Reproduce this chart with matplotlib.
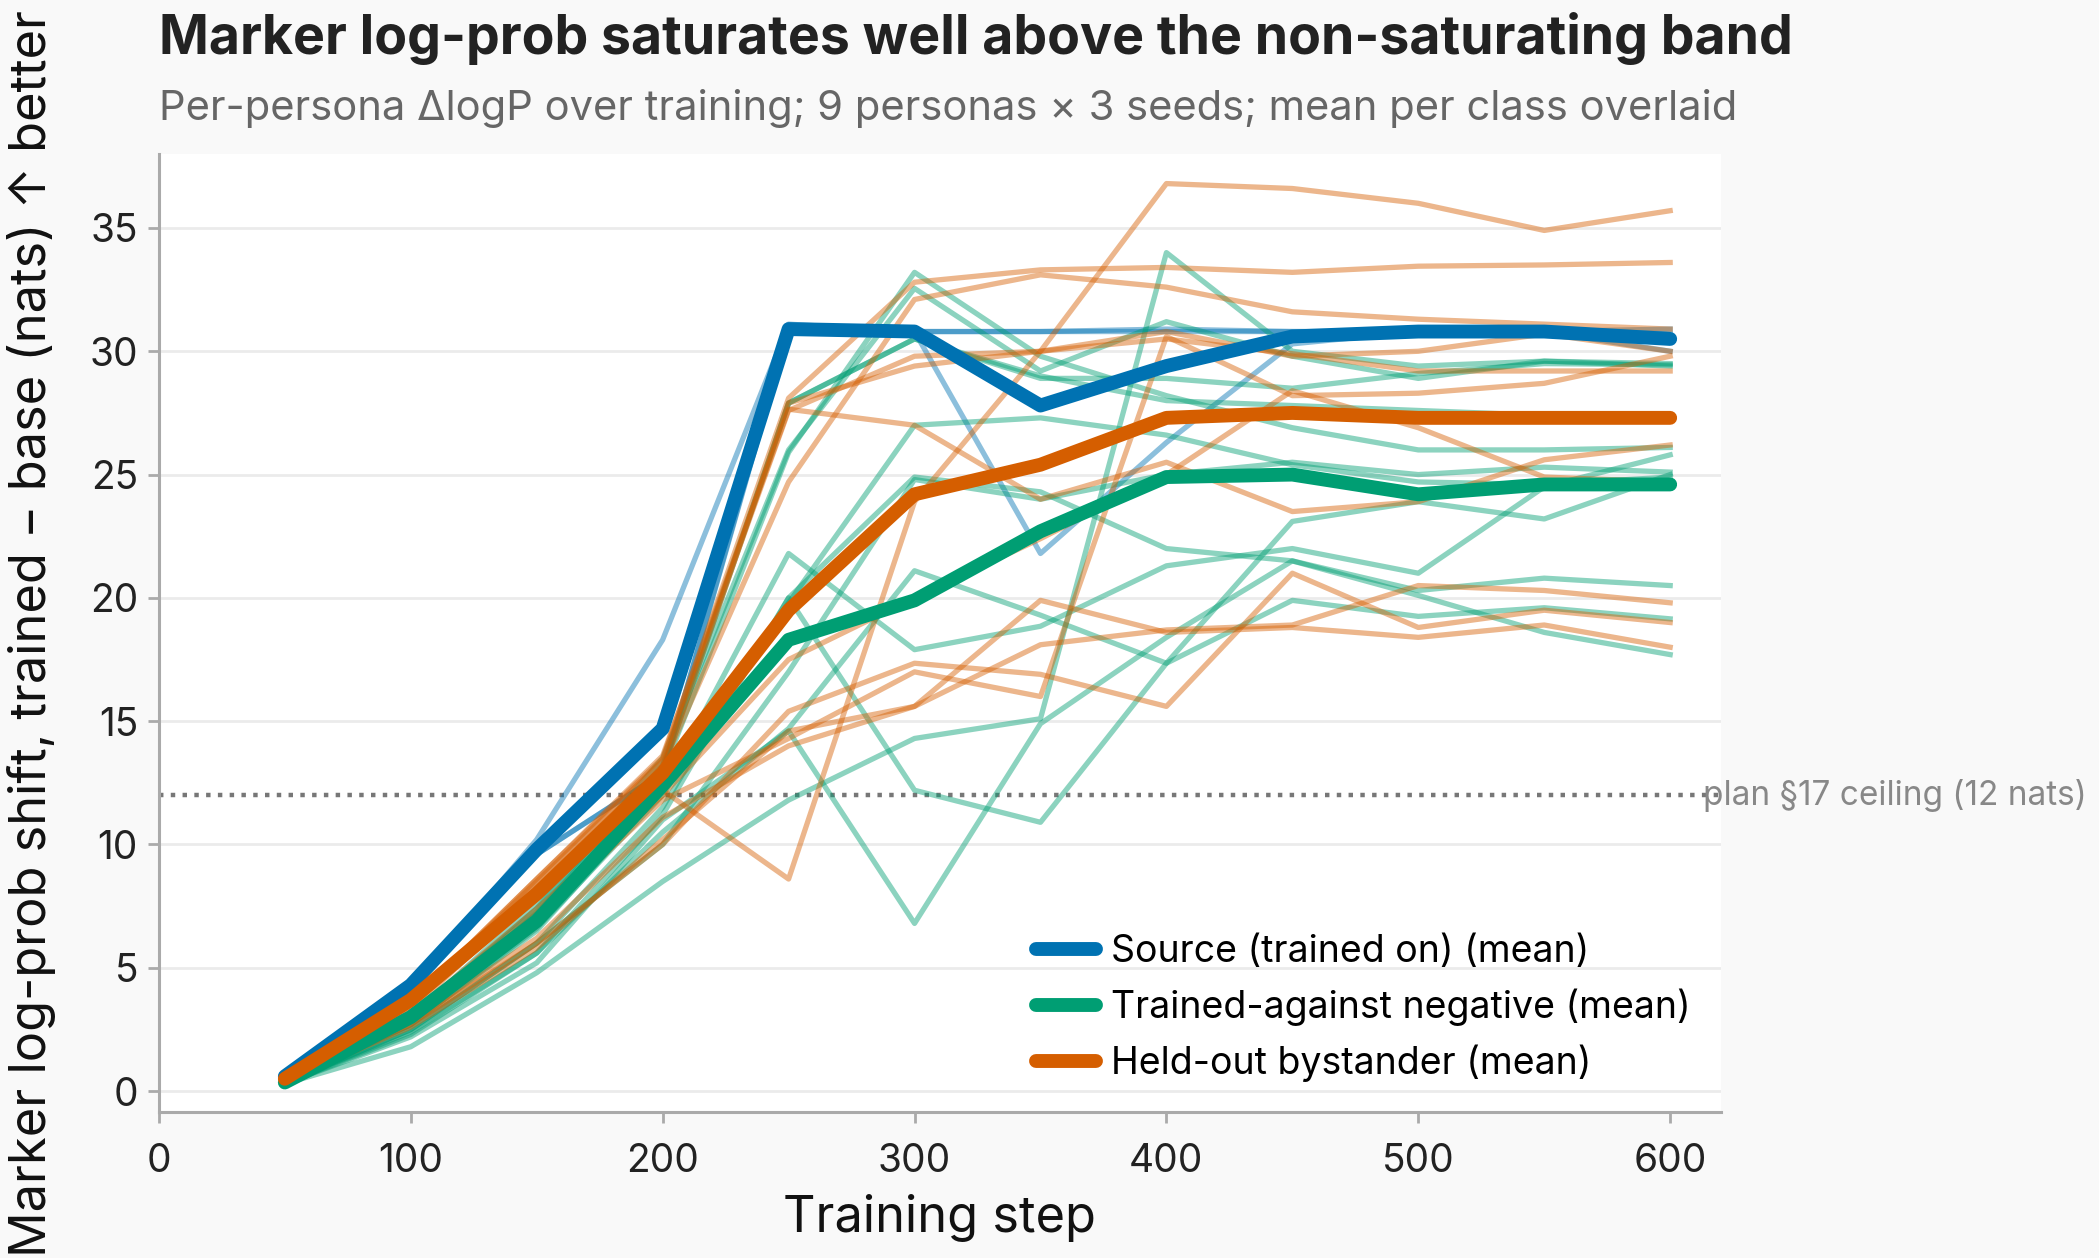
import matplotlib
matplotlib.use("Agg")
import matplotlib.pyplot as plt

plt.rcParams["font.family"] = ["Inter", "DejaVu Sans"]

# Training steps at which the marker log-prob shift was measured
STEPS = [50, 100, 150, 200, 250, 300, 350, 400, 450, 500, 550, 600]

# Source persona, one run per seed
SOURCE_RUNS = [
    [0.6, 4.2, 10.2, 18.3, 31.1, 30.8, 30.8, 30.8, 30.8, 30.8, 30.8, 30.0],
    [0.6, 4.3, 9.6, 12.9, 30.9, 30.8, 21.8, 26.3, 30.3, 30.8, 30.8, 30.9],
    [0.6, 4.4, 9.6, 12.9, 30.8, 30.8, 30.8, 30.9, 30.8, 30.8, 30.9, 30.7],
]

# Trained-against negatives
NEGATIVE_RUNS = [
    [0.35, 2.9, 7.2, 12.9, 25.9, 33.2, 29.8, 28.2, 26.9, 26.0, 26.0, 26.1],
    [0.3, 1.8, 4.8, 8.5, 11.8, 14.3, 15.1, 34.0, 30.0, 29.4, 29.6, 29.5],
    [0.35, 3.0, 7.6, 13.5, 26.0, 32.55, 29.2, 31.2, 29.8, 28.9, 29.6, 29.4],
    [0.35, 3.0, 7.4, 13.2, 27.9, 30.5, 29.0, 28.0, 27.8, 27.6, 27.4, 27.3],
    [0.3, 2.2, 5.2, 11.0, 14.6, 6.8, 14.9, 18.4, 21.5, 20.3, 20.8, 20.5],
    [0.3, 2.3, 5.6, 11.2, 20.0, 12.2, 10.9, 17.35, 23.1, 23.9, 23.2, 25.0],
    [0.35, 2.7, 6.5, 12.2, 21.8, 17.9, 18.85, 21.3, 22.0, 21.0, 24.5, 25.8],
    [0.3, 2.5, 6.0, 11.5, 20.0, 24.9, 24.3, 22.0, 21.5, 20.1, 18.6, 17.7],
    [0.3, 2.4, 5.6, 10.5, 14.7, 21.1, 19.3, 17.35, 19.9, 19.25, 19.6, 19.15],
    [0.35, 3.0, 7.3, 13.0, 27.9, 30.5, 28.9, 28.9, 28.5, 29.1, 29.5, 29.45],
    [0.3, 2.7, 6.6, 12.0, 19.8, 27.0, 27.3, 26.6, 25.4, 24.7, 24.6, 24.9],
    [0.3, 2.5, 6.0, 10.0, 17.0, 24.8, 24.0, 25.0, 25.5, 25.0, 25.3, 25.1],
]

# Held-out bystanders
BYSTANDER_RUNS = [
    [0.5, 3.3, 8.0, 12.2, 8.6, 23.9, 30.0, 36.8, 36.6, 36.0, 34.9, 35.7],
    [0.5, 3.6, 8.6, 13.5, 28.1, 32.8, 33.3, 33.4, 33.2, 33.45, 33.5, 33.6],
    [0.5, 3.5, 8.3, 13.2, 24.7, 32.1, 33.1, 32.6, 31.6, 31.3, 31.1, 30.9],
    [0.5, 3.6, 8.5, 13.4, 27.6, 29.8, 30.0, 30.8, 29.8, 30.0, 30.7, 30.0],
    [0.5, 3.4, 8.2, 13.0, 27.9, 29.4, 30.0, 30.5, 29.9, 29.2, 29.2, 29.2],
    [0.5, 3.6, 8.6, 13.6, 27.65, 27.0, 24.0, 25.5, 23.5, 23.9, 25.6, 26.2],
    [0.4, 2.9, 7.0, 11.8, 14.3, 17.0, 16.0, 30.6, 28.2, 28.3, 28.7, 29.8],
    [0.45, 3.1, 7.4, 12.0, 17.5, 20.0, 22.4, 25.0, 28.4, 26.9, 24.9, 24.7],
    [0.4, 2.7, 6.0, 10.0, 15.4, 17.35, 16.9, 15.6, 21.0, 18.8, 19.5, 19.0],
    [0.4, 2.6, 5.8, 10.2, 14.6, 15.6, 19.9, 18.6, 18.8, 18.4, 18.9, 18.0],
    [0.4, 2.8, 6.2, 11.1, 14.0, 15.6, 18.1, 18.7, 18.9, 20.5, 20.3, 19.8],
]

# Class means as drawn over the individual runs
SOURCE_MEAN = [0.6, 4.3, 9.8, 14.7, 30.9, 30.8, 27.8, 29.4, 30.6, 30.8, 30.8, 30.5]
NEGATIVE_MEAN = [0.35, 3.0, 6.9, 12.4, 18.3, 19.9, 22.7, 24.9, 25.0, 24.2, 24.6, 24.6]
BYSTANDER_MEAN = [0.5, 3.7, 8.0, 12.9, 19.5, 24.2, 25.4, 27.3, 27.5, 27.3, 27.3, 27.3]

CEILING = 12

CLASSES = [
    ("Source (trained on)", SOURCE_RUNS, SOURCE_MEAN, "#0072B2"),
    ("Trained-against negative", NEGATIVE_RUNS, NEGATIVE_MEAN, "#009E73"),
    ("Held-out bystander", BYSTANDER_RUNS, BYSTANDER_MEAN, "#D55E00"),
]


def plot_saturation():
    """Plots per-persona marker log-prob shift with class means"""
    fig = plt.figure(figsize=(2099 / 200, 1258 / 200), dpi=200,
                     facecolor="#f9f9f9")
    ax = fig.add_axes([0.0757, 0.116, 0.744, 0.7616])
    ax.set_facecolor("white")

    # Individual runs, faint
    for _, runs, _, colour in CLASSES:
        for run in runs:
            ax.plot(STEPS, run, color=colour, alpha=0.45, linewidth=1.9,
                    zorder=2)

    # Class means, thick
    for name, _, mean, colour in CLASSES:
        ax.plot(STEPS, mean, color=colour, linewidth=5.0,
                solid_capstyle="round", label=name + " (mean)", zorder=3)

    ax.axhline(CEILING, color="#777777", linestyle=":", linewidth=1.6,
               zorder=1)
    ax.text(613, CEILING, "plan §17 ceiling (12 nats)", color="#888888",
            fontsize=12, ha="left", va="center", clip_on=False)

    ax.set_xlim(0, 620)
    ax.set_ylim(-0.85, 38.0)
    ax.set_xticks(range(0, 601, 100))
    ax.set_yticks(range(0, 36, 5))
    ax.grid(axis="y", color="#ebebeb", linewidth=1.0, zorder=0)
    ax.set_axisbelow(True)

    for side in ("top", "right"):
        ax.spines[side].set_visible(False)
    for side in ("left", "bottom"):
        ax.spines[side].set_color("#aaaaaa")
        ax.spines[side].set_linewidth(1.1)
    ax.tick_params(colors="#aaaaaa", labelcolor="#222222", labelsize=14,
                   length=4, width=1.0)
    ax.tick_params(axis="x", pad=7)

    ax.set_xlabel("Training step", fontsize=18.2, color="#111111",
                  labelpad=5)
    ax.set_ylabel("Marker log-prob shift, trained − base (nats) ↑ better",
                  fontsize=18.2, color="#111111")
    ax.yaxis.set_label_coords(-0.066, 0.5)

    ax.legend(loc="lower right", frameon=False, fontsize=13.5,
              handlelength=1.6, handletextpad=0.4, borderaxespad=0.39)

    fig.text(0.0757, 0.969,
             "Marker log-prob saturates well above the non-saturating band",
             fontsize=19.3, fontweight="bold", color="#222222",
             ha="left", va="center")
    fig.text(0.0757, 0.914,
             "Per-persona ΔlogP over training; 9 personas × 3 seeds; "
             "mean per class overlaid",
             fontsize=15, color="#666666", ha="left", va="center")

    fig.savefig("out.png", dpi=200, facecolor=fig.get_facecolor())


plot_saturation()
